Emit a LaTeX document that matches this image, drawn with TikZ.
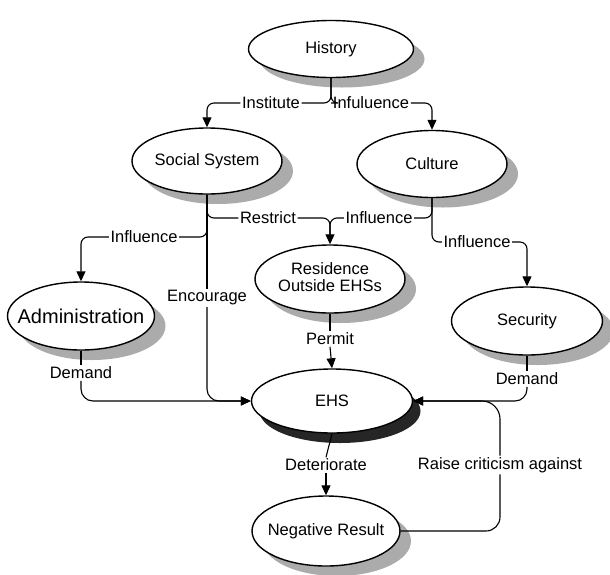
\documentclass[tikz,border=0pt]{standalone}
\usepackage{fontspec}
\setmainfont{Liberation Sans}
\usetikzlibrary{shapes.geometric,shadows,arrows.meta}
\newcommand{\ctext}[1]{\makebox[0pt]{#1}}
\begin{document}
\begin{tikzpicture}[x=1pt,y=-1pt,
  every node/.style={font=\fontsize{16.5}{19}\selectfont},
  ell/.style={ellipse,draw,line width=1.4pt,fill=white,inner sep=0pt,
    drop shadow={shadow xshift=11pt,shadow yshift=-10pt,fill=black!33,opacity=1,draw=none}},
  darkell/.style={ellipse,draw,line width=1.4pt,fill=white,inner sep=0pt,
    drop shadow={shadow xshift=8pt,shadow yshift=-10pt,fill=black!85,opacity=1,draw=none}},
  lab/.style={inner sep=1.5pt},
  conn/.style={line width=1.1pt,rounded corners=7pt},
  arr/.style={conn,-{Triangle[length=10pt,width=9pt]}}]
\useasboundingbox (0,0) rectangle (610,574);

% nodes
\node[ell,minimum width=165,minimum height=57] (hist) at (331,49) {\ctext{History}};
\node[ell,minimum width=150,minimum height=66] (soc) at (207,161) {\ctext{Social System}};
\node[ell,minimum width=150,minimum height=67] (cul) at (432,164) {\ctext{Culture}};
\node[ell,minimum width=150,minimum height=68] (res) at (330,279) {\ctext{\begin{tabular}{@{}c@{}}Residence\\[-2pt]Outside EHSs\end{tabular}}};
\node[ell,minimum width=147,minimum height=68,font=\fontsize{20}{23}\selectfont] (adm) at (81,316) {\ctext{Administration}};
\node[ell,minimum width=151,minimum height=68] (sec) at (527,321) {\ctext{Security}};
\node[darkell,minimum width=161,minimum height=64] (ehs) at (332,401) {\ctext{EHS}};
\node[ell,minimum width=148,minimum height=70] (neg) at (326,531) {\ctext{Negative Result}};

% labels
\node[lab] (inst) at (271,103) {Institute};
\node[lab] (infa) at (371,103) {Infuluence};
\node[lab] (restr) at (268,218) {Restrict};
\node[lab] (infb) at (379,218) {Influence};
\node[lab] (infc) at (144,237) {Influence};
\node[lab] (infd) at (477,242) {Influence};
\node[lab] (enc) at (207,298) {Encourage};
\node[lab] (perm) at (330,339) {Permit};
\node[lab] (dema) at (81,373) {Demand};
\node[lab] (demb) at (527,379) {Demand};
\node[lab] (det) at (326,465) {Deteriorate};
\node[lab] (crit) at (500,465) {Raise criticism against};

\coordinate (rj) at (330,236);

% connectors
\draw[conn] (hist.south) |- (inst.east);
\draw[conn] (hist.south) |- (infa.west);
\draw[arr] (inst.west) -| (soc.north);
\draw[arr] (infa.east) -| (cul.north);

\draw[conn] (soc.south) -- (enc.north);
\draw[arr,rounded corners=12pt] (enc.south) |- (ehs.west);
\draw[conn] (soc.south) |- (restr.west);
\draw[conn] (soc.south) |- (infc.east);
\draw[arr] (infc.west) -| (adm.north);
\draw[conn] (restr.east) -| (rj);
\draw[conn] (cul.south) |- (infb.east);
\draw[conn] (infb.west) -| (rj);
\draw[arr] (rj) -- (res.north);
\draw[conn] (cul.south) |- (infd.west);
\draw[arr] (infd.east) -| (sec.north);

\draw[conn] (res.south) -- (perm.north);
\draw[arr] (perm.south) -- (ehs.north);
\draw[conn] (adm.south) -- (dema.north);
\draw[arr,rounded corners=12pt] (dema.south) |- (ehs.west);
\draw[conn] (sec.south) -- (demb.north);
\draw[arr,rounded corners=12pt] (demb.south) |- (ehs.east);
\draw[conn] (ehs.south) -- (det.north);
\draw[arr] (det.south) -- (neg.north);
\draw[conn,rounded corners=14pt] (neg.east) -| (crit.south);
\draw[arr,rounded corners=18pt] (crit.north) |- (ehs.east);
\end{tikzpicture}
\end{document}
